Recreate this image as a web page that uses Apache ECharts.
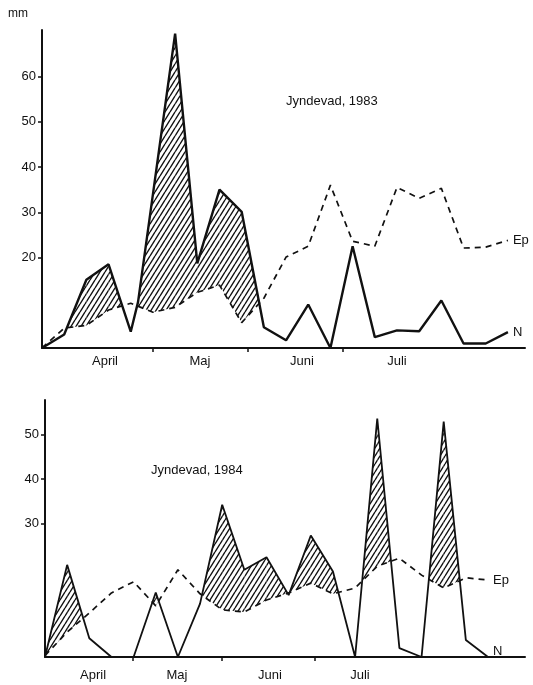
<!DOCTYPE html>
<html>
<head>
<meta charset="utf-8">
<script src="https://cdn.jsdelivr.net/npm/echarts@6/dist/echarts.min.js"></script>
<style>
  html, body { margin: 0; padding: 0; background: #fff; }
  #chart { width: 533px; height: 685px; }
</style>
</head>
<body>
<div id="chart"></div>
<script>
  // x = period number (about one week each) counted from the start of each axis
  // 1983
  const n83X = [0, 1, 2, 3, 4, 4.33, 6, 7, 8, 9, 10, 11, 12, 13, 14, 15, 16, 17, 18, 19, 20, 21]
  const n83 = [0, 3.0, 15.1, 18.5, 3.6, 10.2, 69.5, 18.7, 35.0, 30.1, 4.6, 1.7, 9.6, 0, 22.5, 2.4, 3.9, 3.7, 10.5, 1.0, 1.0, 3.5]
  const ep83X = [0, 1, 2, 3, 4, 5, 6, 7, 8, 9, 10, 11, 12, 13, 14, 15, 16, 17, 18, 19, 20, 21]
  const ep83 = [0, 4.4, 5.0, 8.4, 9.9, 7.9, 9.0, 12.3, 13.9, 5.6, 11.0, 20.1, 22.5, 36.0, 23.6, 22.5, 35.5, 33.1, 35.3, 22.1, 22.3, 23.8]
  const monthTicks83 = [5.0, 9.28, 13.56]
  const monthPos83 = [2.84, 7.12, 11.72, 16.0]

  // 1984
  const n84X = [0, 1, 2, 3, 4, 5, 6, 7, 8, 9, 10, 11, 12, 13, 14, 15, 16, 17, 18, 19, 20]
  const n84 = [0, 20.7, 4.2, 0, 0, 14.5, 0, 12.0, 34.2, 19.6, 22.4, 13.9, 27.3, 19.2, 0, 53.6, 2.0, 0, 52.9, 3.8, 0]
  const ep84X = [0, 1, 2, 3, 4, 5, 6, 7, 8, 9, 10, 11, 12, 13, 14, 15, 16, 17, 18, 19, 20]
  const ep84 = [0.3, 5.6, 9.9, 14.4, 16.9, 11.5, 19.6, 14.2, 10.6, 10.1, 12.8, 14.4, 16.6, 14.2, 15.5, 20.4, 22.2, 18.4, 15.5, 17.8, 17.3]
  const monthTicks84 = [3.97, 7.99, 12.19]
  const monthPos84 = [2.17, 5.96, 10.16, 14.22]

  const monthNames = ['April', 'Maj', 'Juni', 'Juli']
  const yTicks83 = [20, 30, 40, 50, 60]
  const yTicks84 = [30, 40, 50]

  const FONT = 'Liberation Sans, Arial, sans-serif'
  const INK = '#111'

  function pairs(xs, ys) {
    return xs.map((x, i) => [x, ys[i]])
  }

  // diagonal hatch tile
  function makeHatch() {
    const c = document.createElement('canvas')
    c.width = 5
    c.height = 8
    const g = c.getContext('2d')
    g.strokeStyle = INK
    g.lineWidth = 1.4
    g.beginPath()
    g.moveTo(0, 8); g.lineTo(5, 0)
    g.moveTo(-5, 8); g.lineTo(0, 0)
    g.moveTo(5, 8); g.lineTo(10, 0)
    g.stroke()
    return c
  }
  const hatch = { image: makeHatch(), repeat: 'repeat' }

  function interp(xs, ys, x) {
    for (let i = 0; i < xs.length - 1; i++) {
      if (x >= xs[i] && x <= xs[i + 1]) {
        const t = (x - xs[i]) / (xs[i + 1] - xs[i])
        return ys[i] + t * (ys[i + 1] - ys[i])
      }
    }
    return ys[ys.length - 1]
  }

  // polygons where N lies above Ep
  function hatchRender(nx, ny, ex, ey) {
    return function (params, api) {
      const lo = Math.max(nx[0], ex[0])
      const hi = Math.min(nx[nx.length - 1], ex[ex.length - 1])
      const xs = Array.from(new Set(nx.concat(ex))).filter(x => x >= lo && x <= hi).sort((a, b) => a - b)
      const children = []
      for (let i = 0; i < xs.length - 1; i++) {
        const x0 = xs[i], x1 = xs[i + 1]
        const n0 = interp(nx, ny, x0), n1 = interp(nx, ny, x1)
        const e0 = interp(ex, ey, x0), e1 = interp(ex, ey, x1)
        const d0 = n0 - e0, d1 = n1 - e1
        let pts = null
        if (d0 >= 0 && d1 >= 0 && (d0 > 0 || d1 > 0)) {
          pts = [[x0, n0], [x1, n1], [x1, e1], [x0, e0]]
        } else if (d0 > 0 && d1 < 0) {
          const t = d0 / (d0 - d1)
          pts = [[x0, n0], [x0 + t * (x1 - x0), n0 + t * (n1 - n0)], [x0, e0]]
        } else if (d0 < 0 && d1 > 0) {
          const t = d0 / (d0 - d1)
          pts = [[x0 + t * (x1 - x0), n0 + t * (n1 - n0)], [x1, n1], [x1, e1]]
        }
        if (pts) {
          children.push({
            type: 'polygon',
            shape: { points: pts.map(p => api.coord(p)) },
            style: { fill: hatch, stroke: null }
          })
        }
      }
      return { type: 'group', children: children }
    }
  }

  function xAxisCfg(idx, max, ticks, pos, margin) {
    return {
      type: 'value',
      gridIndex: idx,
      min: 0,
      max: max,
      axisLine: { lineStyle: { color: INK, width: 2 } },
      axisTick: { show: true, customValues: ticks, length: 4, lineStyle: { color: INK, width: 1.5 } },
      axisLabel: {
        customValues: pos,
        margin: margin,
        color: INK,
        fontFamily: FONT,
        fontSize: 13,
        formatter: v => monthNames[pos.findIndex(p => Math.abs(p - v) < 0.01)] || ''
      },
      splitLine: { show: false }
    }
  }

  function yAxisCfg(idx, max, ticks) {
    return {
      type: 'value',
      gridIndex: idx,
      min: 0,
      max: max,
      axisLine: { show: true, lineStyle: { color: INK, width: 2 } },
      axisTick: { show: true, customValues: ticks, length: 4, lineStyle: { color: INK, width: 1.5 } },
      axisLabel: { customValues: ticks, margin: 6, color: INK, fontFamily: FONT, fontSize: 13 },
      splitLine: { show: false }
    }
  }

  function lineN(idx, xs, ys, off) {
    return {
      type: 'line',
      xAxisIndex: idx,
      yAxisIndex: idx,
      data: pairs(xs, ys),
      symbol: 'none',
      z: 4,
      lineStyle: { color: INK, width: idx === 0 ? 2.4 : 1.8 },
      endLabel: { show: true, formatter: 'N', color: INK, fontFamily: FONT, fontSize: 13, distance: 5, offset: off },
      animation: false
    }
  }

  function lineEp(idx, xs, ys, off) {
    return {
      type: 'line',
      xAxisIndex: idx,
      yAxisIndex: idx,
      data: pairs(xs, ys),
      symbol: 'none',
      z: 3,
      lineStyle: { color: INK, width: 1.7, type: [6, 5] },
      endLabel: { show: true, formatter: 'Ep', color: INK, fontFamily: FONT, fontSize: 13, distance: 5, offset: off },
      animation: false
    }
  }

  function hatchSeries(idx, nx, ny, ex, ey) {
    return {
      type: 'custom',
      xAxisIndex: idx,
      yAxisIndex: idx,
      data: [[0, 0]],
      z: 2,
      silent: true,
      clip: false,
      renderItem: hatchRender(nx, ny, ex, ey),
      animation: false
    }
  }

  const chart = echarts.init(document.getElementById('chart'))
  chart.setOption({
    backgroundColor: '#fff',
    animation: false,
    textStyle: { fontFamily: FONT },
    title: [
      { text: 'Jyndevad, 1983', left: 281, top: 90, textStyle: { fontFamily: FONT, fontSize: 13, fontWeight: 'normal', color: INK } },
      { text: 'Jyndevad, 1984', left: 146, top: 459, textStyle: { fontFamily: FONT, fontSize: 13, fontWeight: 'normal', color: INK } }
    ],
    graphic: [
      { type: 'text', left: 8, top: 8, style: { text: 'mm', fontFamily: FONT, fontSize: 12, fill: INK } }
    ],
    grid: [
      { left: 42, right: 8, top: 30, height: 318 },
      { left: 45, right: 8, top: 400, height: 257 }
    ],
    xAxis: [
      xAxisCfg(0, 21.77, monthTicks83, monthPos83, 7),
      xAxisCfg(1, 21.67, monthTicks84, monthPos84, 12)
    ],
    yAxis: [
      yAxisCfg(0, 70.3, yTicks83),
      yAxisCfg(1, 57.75, yTicks84)
    ],
    series: [
      hatchSeries(0, n83X, n83, ep83X, ep83),
      lineEp(0, ep83X, ep83, [0, 0]),
      lineN(0, n83X, n83, [0, 0]),
      hatchSeries(1, n84X, n84, ep84X, ep84),
      lineEp(1, ep84X, ep84, [0, 0]),
      lineN(1, n84X, n84, [0, -6])
    ]
  })
</script>
</body>
</html>
